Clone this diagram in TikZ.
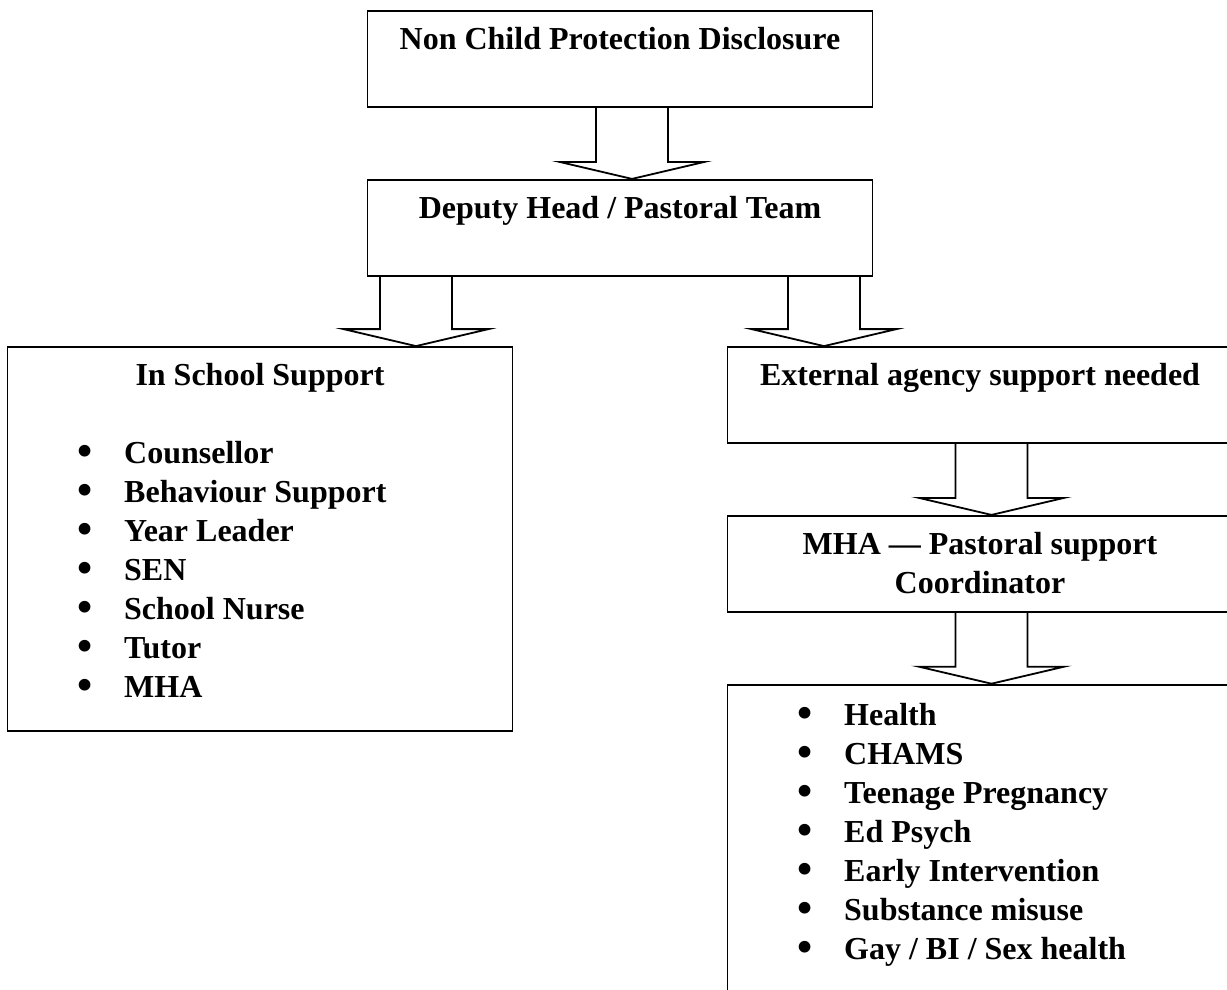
\documentclass[tikz,border=0pt]{standalone}
\usepackage{fontspec}
\setmainfont{Liberation Serif}
\usetikzlibrary{positioning, calc}

\tikzset{
  box/.style={draw, line width=1.8pt, minimum width=505pt, minimum height=96pt, inner sep=0pt},
  title/.style={anchor=base, yshift=-39.5pt, align=center, inner sep=0pt},
  item/.style={anchor=base west, inner sep=0pt},
  fat/.style={draw, line width=1.8pt, line join=miter},
}
\newcommand{\bul}[1]{\makebox[47pt][l]{\raisebox{-2.5pt}{\scalebox{1.35}{\textbullet}}}#1}
% hollow block arrow from one box down to the next, centred at x = #3
\newcommand{\fatarrow}[3]{%
  \draw[fat] let \p1=(#1.south), \p2=(#2.north) in
    (#3pt-36pt,\y1) -- (#3pt-36pt,\y2+17pt) -- (#3pt-72.5pt,\y2+17pt) -- (#3pt,\y2)
    -- (#3pt+72.5pt,\y2+17pt) -- (#3pt+36pt,\y2+17pt) -- (#3pt+36pt,\y1);}

\begin{document}
\begin{tikzpicture}
  [x=1pt, y=-1pt, font=\fontsize{32}{39}\selectfont\bfseries]
  \clip (0,0) rectangle (1227,990);

  \node[box] (ncpd) at (620,59) {};
  \node[box, below=71pt of ncpd] (deputy) {};
  \node[box, minimum height=384pt] (inschool) at (260,539) {};
  \node[box] (external) at (980,395) {};
  \node[box, below=71pt of external] (mha) {};
  \node[box, below=71pt of mha, minimum height=340pt] (agencies) {};

  \node[title] (ncpdtitle) at (ncpd.north) {Non Child Protection Disclosure};
  \node[title] (deputytitle) at (deputy.north) {Deputy Head / Pastoral Team};
  \node[title] (inschooltitle) at (inschool.north) {In School Support};
  \node[title] (externaltitle) at (external.north) {External agency support needed};
  \node[title, yshift=-39pt] (mhatitle) at (mha.north) {MHA — Pastoral support\\Coordinator};

  \foreach \name [count=\i] in {Counsellor, Behaviour Support, Year Leader, SEN,
      School Nurse, Tutor, MHA}
    \node[item] (in\i) at (77,424+39*\i) {\bul{\name}};
  \foreach \name [count=\i] in {Health, CHAMS, Teenage Pregnancy, Ed Psych,
      Early Intervention, Substance misuse, Gay / BI / Sex health}
    \node[item] (ag\i) at (797,686+39*\i) {\bul{\name}};

  \fatarrow{ncpd}{deputy}{632}
  \fatarrow{deputy}{inschool}{416}
  \fatarrow{deputy}{external}{824}
  \fatarrow{external}{mha}{991.5}
  \fatarrow{mha}{agencies}{991.5}
\end{tikzpicture}
\end{document}
